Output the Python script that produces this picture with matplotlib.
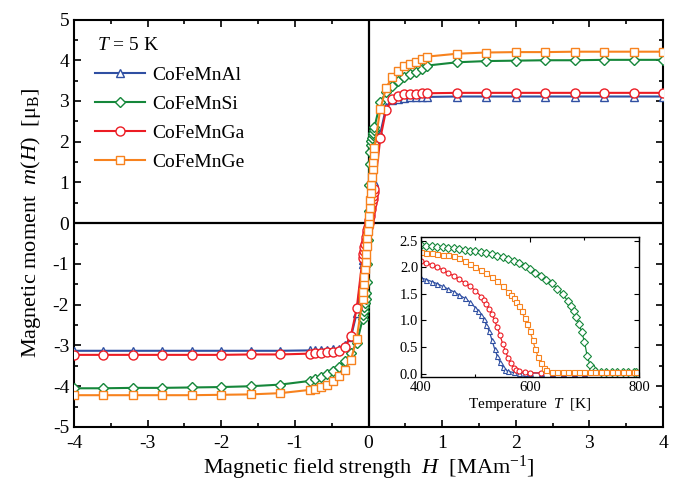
"""M(H) loops at 5 K with M(T) inset for CoFeMn-based Heusler alloys."""
import numpy as np
from matplotlib import pyplot as plt, ticker

plt.rcParams["font.family"] = ["Liberation Serif", "DejaVu Serif"]
plt.rcParams["mathtext.fontset"] = "custom"
plt.rcParams["mathtext.rm"] = "Liberation Serif"
plt.rcParams["mathtext.it"] = "Liberation Serif:italic"
plt.rcParams["axes.unicode_minus"] = False

# main panel: field in MA/m, moment in mu_B
field = [-4.0, -3.6, -3.2, -2.8, -2.4, -2.0, -1.6, -1.2, -0.8,
         -0.72, -0.64, -0.56, -0.48, -0.40, -0.32, -0.24, -0.16,
         -0.08, -0.072, -0.064, -0.056, -0.048, -0.04, -0.032, -0.024, -0.016, -0.008,
         0.0, 0.008, 0.016, 0.024, 0.032, 0.04, 0.048, 0.056, 0.064, 0.072, 0.08,
         0.16, 0.24, 0.32, 0.40, 0.48, 0.56, 0.64, 0.72,
         0.8, 1.2, 1.6, 2.0, 2.4, 2.8, 3.2, 3.6, 4.0]

m_al = [-3.13, -3.13, -3.13, -3.13, -3.13, -3.13, -3.13, -3.13, -3.12,
        -3.11, -3.11, -3.10, -3.09, -3.08, -3.00, -2.80, -2.20,
        -1.00, -0.90, -0.80, -0.70, -0.60, -0.50, -0.40, -0.30, -0.20, -0.10,
        0.0, 0.10, 0.20, 0.30, 0.40, 0.50, 0.60, 0.70, 0.80, 0.90, 1.00,
        2.20, 2.85, 3.02, 3.06, 3.08, 3.09, 3.09, 3.10,
        3.10, 3.11, 3.11, 3.11, 3.11, 3.11, 3.11, 3.11, 3.11]
m_si = [-4.05, -4.05, -4.04, -4.04, -4.03, -4.02, -4.00, -3.96, -3.87,
        -3.82, -3.77, -3.70, -3.62, -3.52, -3.38, -3.18, -2.95,
        -2.35, -2.25, -2.15, -2.05, -1.95, -1.85, -1.70, -1.45, -1.00, -0.40,
        0.30, 0.95, 1.45, 1.75, 1.92, 2.02, 2.10, 2.17, 2.22, 2.28, 2.35,
        2.97, 3.22, 3.38, 3.50, 3.59, 3.67, 3.72, 3.79,
        3.87, 3.95, 3.98, 3.99, 4.00, 4.00, 4.01, 4.01, 4.01]
m_ga = [-3.23, -3.23, -3.23, -3.23, -3.23, -3.23, -3.22, -3.22, -3.20,
        -3.19, -3.18, -3.17, -3.16, -3.13, -3.04, -2.77, -2.09,
        -0.85, -0.76, -0.67, -0.59, -0.50, -0.42, -0.34, -0.25, -0.17, -0.08,
        0.0, 0.08, 0.17, 0.25, 0.34, 0.42, 0.50, 0.59, 0.67, 0.76, 0.85,
        2.08, 2.79, 3.04, 3.13, 3.16, 3.17, 3.18, 3.19,
        3.19, 3.20, 3.20, 3.20, 3.20, 3.20, 3.20, 3.20, 3.20]
m_ge = [-4.22, -4.22, -4.22, -4.22, -4.22, -4.21, -4.20, -4.17, -4.09,
        -4.06, -4.02, -3.96, -3.88, -3.76, -3.60, -3.36, -2.83,
        -1.85, -1.68, -1.50, -1.32, -1.13, -0.94, -0.75, -0.56, -0.37, -0.18,
        0.0, 0.18, 0.37, 0.56, 0.75, 0.94, 1.13, 1.32, 1.50, 1.68, 1.85,
        2.80, 3.33, 3.58, 3.74, 3.85, 3.91, 3.96, 4.02,
        4.09, 4.16, 4.19, 4.20, 4.20, 4.21, 4.21, 4.21, 4.21]

# inset: temperature in K, moment in mu_B
t_al = [400, 410, 420, 430, 440, 450, 460, 470, 480, 490, 500,
        505, 510, 515, 520, 525, 530, 535, 540, 545, 550, 555, 560,
        570, 580, 590, 600, 620, 640, 660, 680, 700]
mt_al = [1.80, 1.77, 1.73, 1.69, 1.64, 1.59, 1.54, 1.48, 1.42, 1.34, 1.24,
         1.18, 1.10, 1.02, 0.92, 0.80, 0.64, 0.47, 0.33, 0.21, 0.12, 0.07, 0.04,
         0.02, 0.015, 0.01, 0.01, 0.01, 0.01, 0.01, 0.01, 0.01]
t_ga = [400, 410, 420, 430, 440, 450, 460, 470, 480, 490, 500, 510,
        515, 520, 525, 530, 535, 540, 545, 550, 555, 560, 565, 570, 575, 580,
        590, 600, 620, 640, 660, 680, 700]
mt_ga = [2.12, 2.08, 2.04, 2.00, 1.95, 1.89, 1.84, 1.78, 1.71, 1.64, 1.56, 1.45,
         1.39, 1.31, 1.22, 1.12, 1.00, 0.87, 0.72, 0.56, 0.42, 0.29, 0.19, 0.11, 0.06, 0.04,
         0.02, 0.015, 0.01, 0.01, 0.01, 0.01, 0.01]
t_ge = [400, 410, 420, 430, 440, 450, 460, 470, 480, 490, 500, 510, 520, 530, 540, 550, 560,
        565, 570, 575, 580, 585, 590, 595, 600, 605, 610, 615, 620, 625, 630,
        640, 650, 660, 670, 680, 690, 700, 710, 720, 730, 740, 750, 760, 770, 780, 790, 795]
mt_ge = [2.28, 2.27, 2.26, 2.25, 2.24, 2.23, 2.21, 2.17, 2.12, 2.06, 2.01, 1.95, 1.89, 1.82, 1.74, 1.64, 1.54,
         1.48, 1.42, 1.35, 1.27, 1.17, 1.05, 0.93, 0.80, 0.63, 0.46, 0.31, 0.19, 0.11, 0.07,
         0.03, 0.02, 0.02, 0.02, 0.02, 0.02, 0.02, 0.02, 0.02, 0.02, 0.02, 0.02, 0.02, 0.02, 0.02, 0.02, 0.02]
t_si = [400, 410, 420, 430, 440, 450, 460, 470, 480, 490, 500, 510, 520, 530, 540, 550, 560,
        570, 580, 590, 600, 610, 620, 630, 640, 650, 660, 670, 675, 680, 685, 690, 695, 700,
        705, 710, 715, 720, 730, 740, 750, 760, 770, 780, 790, 795]
mt_si = [2.42, 2.41, 2.40, 2.39, 2.38, 2.37, 2.36, 2.345, 2.33, 2.315, 2.30, 2.285, 2.27, 2.245, 2.22, 2.19, 2.16,
         2.12, 2.08, 2.02, 1.96, 1.90, 1.84, 1.77, 1.70, 1.60, 1.49, 1.36, 1.27, 1.17, 1.07, 0.93, 0.78, 0.60,
         0.33, 0.17, 0.09, 0.05, 0.03, 0.02, 0.02, 0.02, 0.02, 0.02, 0.02, 0.02]

labels = ["CoFeMnAl", "CoFeMnSi", "CoFeMnGa", "CoFeMnGe"]
colours = ["#2f4fa2", "#15873a", "#ec1c24", "#f7821e"]
markers = ["^", "D", "o", "s"]
msizes = [6.0, 5.2, 6.5, 6.2]


def style_axis(ax, width, major, minor, size):
    for sp in ax.spines.values():
        sp.set_linewidth(width)
    ax.tick_params(which="both", direction="in", top=True, right=True,
                   width=width * 0.8, labelsize=size)
    ax.tick_params(which="major", length=major)
    ax.tick_params(which="minor", length=minor)


fig = plt.figure(figsize=(6.74, 4.9), dpi=100)
ax = fig.add_axes([0.1098, 0.1286, 0.8739, 0.8316])

ax.axhline(0, color="black", lw=1.6, zorder=1)
ax.axvline(0, color="black", lw=1.6, zorder=1)

for m, lab, col, mk, ms in zip([m_al, m_si, m_ga, m_ge], labels, colours, markers, msizes):
    ax.plot(field, m, color=col, lw=1.5, marker=mk, ms=ms, mfc="white",
            mec=col, mew=1.0, label=lab, zorder=3)

ax.set_xlim(-4, 4)
ax.set_ylim(-5, 5)
ax.xaxis.set_major_locator(ticker.MultipleLocator(1))
ax.xaxis.set_minor_locator(ticker.MultipleLocator(0.5))
ax.yaxis.set_major_locator(ticker.MultipleLocator(1))
ax.yaxis.set_minor_locator(ticker.MultipleLocator(0.5))
style_axis(ax, 1.5, 5, 3, 14)
ax.tick_params(axis="x", pad=6)

ax.set_xlabel(r"Magnetic field strength  $H$  [MAm$^{-1}$]", fontsize=16, labelpad=1)
ax.set_ylabel(r"Magnetic moment  $m(H)$  [μ$_\mathrm{B}$]", fontsize=16, labelpad=7)

ax.text(0.039, 0.935, r"$T$ = 5 K", transform=ax.transAxes, fontsize=14,
        ha="left", va="center")
ax.legend(loc="upper left", bbox_to_anchor=(0.035, 0.885), frameon=False,
          fontsize=14, borderpad=0, borderaxespad=0, handlelength=2.6,
          handletextpad=0.35, labelspacing=0.59)

# inset with M(T)
ins = fig.add_axes([0.6246, 0.2306, 0.3234, 0.2857])
for t, m, col, mk in zip([t_al, t_si, t_ga, t_ge], [mt_al, mt_si, mt_ga, mt_ge], colours, markers):
    ins.plot(t, m, color=col, lw=0.9, marker=mk, ms=3.6, mfc="white",
             mec=col, mew=0.8)
ins.set_xlim(400, 800)
ins.set_ylim(-0.065, 2.57)
ins.xaxis.set_major_locator(ticker.MultipleLocator(200))
ins.xaxis.set_minor_locator(ticker.MultipleLocator(100))
ins.yaxis.set_major_locator(ticker.MultipleLocator(0.5))
ins.yaxis.set_major_formatter(ticker.FormatStrFormatter("%.1f"))
style_axis(ins, 1.0, 3.5, 2, 10.5)
ins.tick_params(axis="x", pad=3)
ins.tick_params(axis="y", pad=2)
ins.set_xlabel(r"Temperature  $T$  [K]", fontsize=11, labelpad=1)

fig.savefig("out.png", dpi=100)
